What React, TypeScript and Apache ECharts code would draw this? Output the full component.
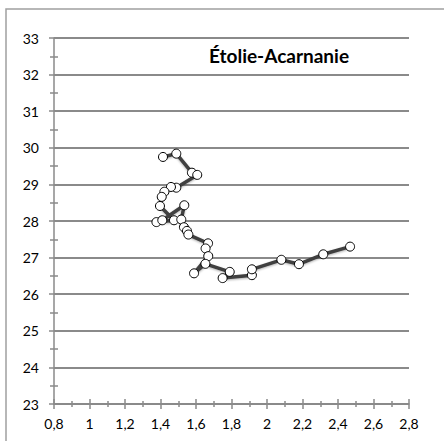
import React, { useEffect, useRef } from "react";
import * as echarts from "echarts";

const title = "Étolie-Acarnanie";
const xValues = [
  1.414, 1.489, 1.577, 1.607, 1.489, 1.459, 1.422, 1.407, 1.397, 1.476,
  1.377, 1.41, 1.534, 1.517, 1.532, 1.549, 1.557, 1.668, 1.654, 1.669,
  1.589, 1.653, 1.79, 1.75, 1.915, 1.915, 2.081, 2.18, 2.317, 2.468,
];
const yValues = [
  29.75, 29.84, 29.32, 29.26, 28.91, 28.93, 28.8, 28.66, 28.41, 28.02,
  27.97, 28.02, 28.43, 28.04, 27.83, 27.73, 27.63, 27.39, 27.25, 27.04,
  26.57, 26.83, 26.61, 26.44, 26.52, 26.68, 26.94, 26.82, 27.09, 27.3,
];
const xMin = 0.8;
const xMax = 2.8;
const xStep = 0.2;
const yMin = 23;
const yMax = 33;
const yStep = 1;

const FONT = "Lato, 'Open Sans', sans-serif";
const GRAY = "#8a8a8a";

export default function App() {
  const ref = useRef<HTMLDivElement>(null);
  useEffect(() => {
    document.body.style.margin = "0";
    const chart = echarts.init(ref.current!, null, { renderer: "svg" });
    const fmtX = (v: number) => String(Math.round(v * 10) / 10).replace(".", ",");
    const commonX = {
      type: "value" as const,
      min: xMin,
      max: xMax,
      interval: xStep,
      position: "bottom" as const,
      splitLine: { show: false },
    };
    const commonY = {
      type: "value" as const,
      min: yMin,
      max: yMax,
      interval: yStep,
      position: "left" as const,
    };
    chart.setOption({
      animation: false,
      backgroundColor: "#ffffff",
      grid: { left: 54, right: 35, top: 38, bottom: 37, containLabel: false },
      graphic: [
        {
          type: "rect",
          shape: { x: 6, y: 9, width: 460, height: 460 },
          style: { fill: "none", stroke: "#a0a0a0", lineWidth: 1.5 },
          silent: true,
        },
        {
          type: "text",
          x: 279,
          y: 55,
          style: {
            text: title,
            fill: "#000",
            font: `bold 19px ${FONT}`,
            align: "center",
            verticalAlign: "middle",
          },
        },
      ],
      xAxis: [
        {
          ...commonX,
          axisLine: { show: true, lineStyle: { color: GRAY, width: 1.5 } },
          axisTick: { show: true, inside: false, length: 5, lineStyle: { color: GRAY, width: 1.5 } },
          minorTick: { show: true, splitNumber: 2, length: 3, lineStyle: { color: GRAY, width: 1.5 } },
          axisLabel: {
            show: true,
            margin: 12,
            formatter: fmtX,
            color: "#000",
            fontSize: 14,
            fontFamily: FONT,
          },
        },
        {
          ...commonX,
          axisLine: { show: false },
          axisTick: { show: true, inside: true, length: 5, lineStyle: { color: GRAY, width: 1.5 } },
          minorTick: { show: true, splitNumber: 2, length: 3, lineStyle: { color: GRAY, width: 1.5 } },
          axisLabel: { show: false },
        },
      ],
      yAxis: [
        {
          ...commonY,
          axisLine: { show: true, lineStyle: { color: GRAY, width: 1.5 } },
          axisTick: { show: true, inside: false, length: 5, lineStyle: { color: GRAY, width: 1.5 } },
          minorTick: { show: true, splitNumber: 2, length: 4, lineStyle: { color: GRAY, width: 1.5 } },
          splitLine: { show: true, lineStyle: { color: GRAY, width: 2 } },
          axisLabel: {
            show: true,
            margin: 15,
            color: "#000",
            fontSize: 14,
            fontFamily: FONT,
          },
        },
        {
          ...commonY,
          axisLine: { show: false },
          axisTick: { show: false, inside: true, length: 4 },
          minorTick: { show: true, splitNumber: 2, length: 4, lineStyle: { color: GRAY, width: 1.5 } },
          splitLine: { show: false },
          axisLabel: { show: false },
        },
      ],
      series: [
        {
          type: "line",
          xAxisIndex: 0,
          yAxisIndex: 0,
          data: xValues.map((x, i) => [x, yValues[i]]),
          symbol: "circle",
          symbolSize: 9,
          showAllSymbol: true,
          lineStyle: {
            color: "#404040",
            width: 3.5,
            shadowColor: "rgba(0,0,0,0.3)",
            shadowBlur: 2,
            shadowOffsetY: 1,
          },
          itemStyle: { color: "#ffffff", borderColor: "#000000", borderWidth: 1 },
          z: 5,
        },
      ],
    });
    return () => chart.dispose();
  }, []);
  return <div ref={ref} style={{ width: 444, height: 441 }} />;
}
